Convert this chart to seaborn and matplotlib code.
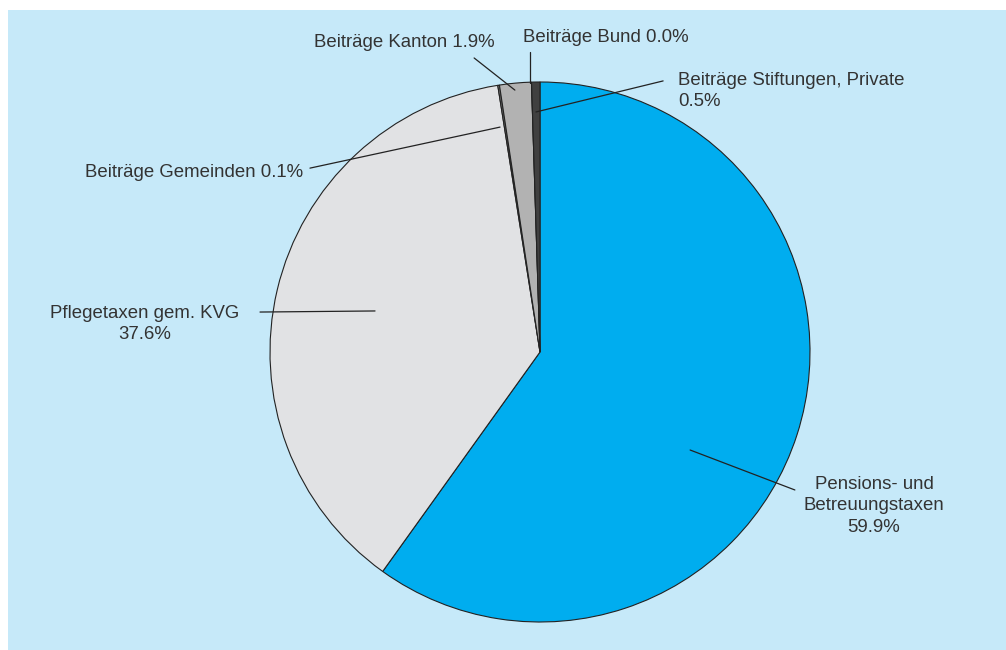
import matplotlib
matplotlib.use('Agg')
import matplotlib.pyplot as plt
import seaborn as sns

################################################################################
# data (clockwise from 12 o'clock)

labels = [
    'Pensions- und\nBetreuungstaxen',
    'Pflegetaxen gem. KVG',
    'Beiträge Gemeinden',
    'Beiträge Kanton',
    'Beiträge Bund',
    'Beiträge Stiftungen, Private',
]
shares = [59.9, 37.6, 0.1, 1.9, 0.0, 0.5]
colors = ['#00adef', '#e1e2e4', '#8c8c8c', '#b2b2b2', '#555555', '#404040']
# label joined to value with newline or space
joiners = ['\n', '\n', ' ', ' ', ' ', '\n']

################################################################################
# annotation layout (data units, pie radius = 1)

leader_inner = [(0.556, -0.363), (-0.611, 0.152), (-0.148, 0.833),
                (-0.093, 0.970), (-0.037, 0.996), (-0.015, 0.889)]
leader_outer = [(0.944, -0.511), (-1.037, 0.148), (-0.852, 0.681),
                (-0.244, 1.089), (-0.037, 1.111), (0.456, 1.004)]
text_pos = [(1.237, -0.570), (-1.463, 0.104), (-0.878, 0.663),
            (-0.504, 1.148), (0.244, 1.163), (0.511, 0.967)]
text_ha = ['center', 'center', 'right', 'center', 'center', 'left']

################################################################################

sns.set_style('white')
plt.rcParams['font.family'] = ['Liberation Sans', 'DejaVu Sans']

fig = plt.figure(figsize = (10.06, 6.5), dpi = 100)
fig.patch.set_facecolor('white')

ax = fig.add_axes([0, 0, 1, 1])
ax.set_facecolor('none')

# light blue panel, leaving a thin white margin top and left
ax.add_patch(plt.Rectangle((8 / 1006, 0), 1, 1 - 10 / 650,
                           transform = fig.transFigure,
                           facecolor = '#c6e9f9', edgecolor = 'none',
                           zorder = 0))

ax.pie(shares, colors = colors, startangle = 90, counterclock = False,
       radius = 1,
       wedgeprops = dict(edgecolor = '#222222', linewidth = 0.8, zorder = 2))

for i in range(len(labels)):
    ax.plot([leader_inner[i][0], leader_outer[i][0]],
            [leader_inner[i][1], leader_outer[i][1]],
            color = '#222222', linewidth = 0.9, zorder = 5)
    txt = f'{labels[i]}{joiners[i]}{shares[i]:.1f}%'
    ax.text(text_pos[i][0], text_pos[i][1], txt, ha = text_ha[i],
            va = 'center', fontsize = 13.4, color = '#333333',
            multialignment = 'center' if text_ha[i] == 'center' else text_ha[i],
            linespacing = 1.32, zorder = 6)

ax.set_xlim(-540 / 270, (1006 - 540) / 270)
ax.set_ylim((352 - 650) / 270, 352 / 270)
ax.set_aspect('equal')
ax.axis('off')

fig.savefig('out.png', dpi = 100)
